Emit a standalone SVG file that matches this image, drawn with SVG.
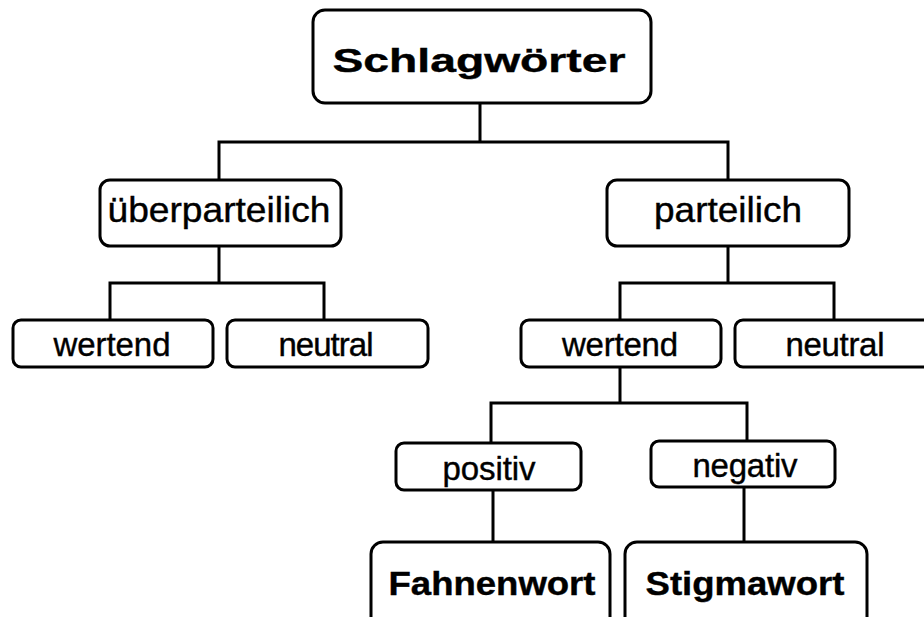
<svg xmlns="http://www.w3.org/2000/svg" width="924" height="617" viewBox="0 0 924 617">
<style>
.box{fill:#fff;stroke:#000;stroke-width:3}
.lbl{font-family:"Liberation Sans",Arial,sans-serif;font-size:33px;fill:#000;stroke:#000;stroke-width:0.4;text-anchor:middle}
.b{font-weight:bold}
.conn path{fill:none;stroke:#000;stroke-width:3;stroke-linecap:square}
</style>
<rect width="924" height="617" fill="#fff"/>
<g class="conn" id="connectors">
<path d="M480,103V142M219,142H728M219,142V180M728,142V180"/>
<path d="M219,246V283M110,283H324M110,283V320M324,283V320"/>
<path d="M728,246V283M620,283H834M620,283V320M834,283V320"/>
<path d="M620,367V403M491,403H747M491,403V443M747,403V441"/>
<path d="M493,490V542M744,487V542"/>
</g>
<g id="n-schlagwoerter"><rect class="box" x="313" y="10" width="338" height="93" rx="12"/><text class="lbl b" x="479" y="72" font-size="50" textLength="293" lengthAdjust="spacingAndGlyphs">Schlagwörter</text></g>
<g id="n-ueberparteilich"><rect class="box" x="100" y="180" width="241" height="66" rx="10"/><text class="lbl" x="219" y="222" textLength="223" lengthAdjust="spacingAndGlyphs" style="font-size:35px">überparteilich</text></g>
<g id="n-parteilich"><rect class="box" x="607" y="180" width="242" height="66" rx="10"/><text class="lbl" x="728" y="222" textLength="148" lengthAdjust="spacingAndGlyphs" style="font-size:35px">parteilich</text></g>
<g id="n-wertend-l"><rect class="box" x="13" y="320" width="200" height="47" rx="8"/><text class="lbl" x="112" y="356" textLength="117">wertend</text></g>
<g id="n-neutral-l"><rect class="box" x="227" y="320" width="201" height="47" rx="8"/><text class="lbl" x="326" y="356" textLength="95">neutral</text></g>
<g id="n-wertend-r"><rect class="box" x="521" y="320" width="200" height="47" rx="8"/><text class="lbl" x="620" y="356" textLength="116">wertend</text></g>
<g id="n-neutral-r"><rect class="box" x="735" y="320" width="200" height="47" rx="8"/><text class="lbl" x="835" y="356" textLength="99">neutral</text></g>
<g id="n-positiv"><rect class="box" x="396" y="443" width="185" height="47" rx="8"/><text class="lbl" x="489" y="480" textLength="93">positiv</text></g>
<g id="n-negativ"><rect class="box" x="651" y="441" width="184" height="46" rx="8"/><text class="lbl" x="745" y="477" textLength="105">negativ</text></g>
<g id="n-fahnenwort"><rect class="box" x="371" y="542" width="239" height="90" rx="12"/><text class="lbl b" x="492" y="595" font-size="35" textLength="207" lengthAdjust="spacingAndGlyphs">Fahnenwort</text></g>
<g id="n-stigmawort"><rect class="box" x="625" y="542" width="242" height="90" rx="12"/><text class="lbl b" x="745" y="595" font-size="35" textLength="199" lengthAdjust="spacingAndGlyphs">Stigmawort</text></g>
</svg>
